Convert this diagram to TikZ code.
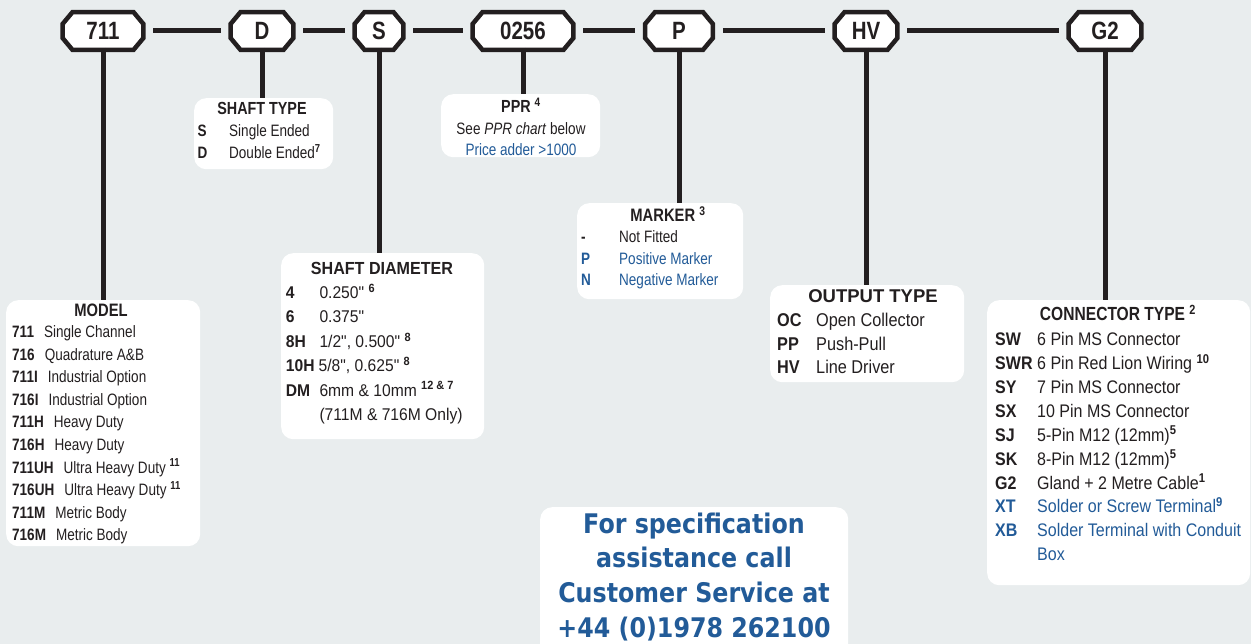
\documentclass[tikz,border=0pt]{standalone}
\usepackage{fontspec}
\setmainfont{Liberation Sans}
\newfontfamily\narrowfont[FakeStretch=0.82]{Liberation Sans}
\newfontfamily\midfont[FakeStretch=0.92]{Liberation Sans}
\newfontfamily\widefont[FakeStretch=0.88]{Liberation Sans}
\newfontfamily\callfont[FakeStretch=0.88]{DejaVu Sans}
\usetikzlibrary{positioning}
\pgfdeclarelayer{back}
\pgfdeclarelayer{mid}
\pgfsetlayers{back,mid,main}
\definecolor{bgcol}{RGB}{233,237,238}
\definecolor{ink}{RGB}{35,31,32}
\definecolor{linkblue}{RGB}{34,91,152}
\newcommand{\sups}[1]{\textsuperscript{\bfseries #1}}
\newcommand{\nbody}{\narrowfont\fontsize{16.5}{20}\selectfont}
\newcommand{\ntitle}{\narrowfont\bfseries\fontsize{17.5}{21}\selectfont}
\newcommand{\mbody}{\midfont\fontsize{17}{20}\selectfont}
\newcommand{\wbody}{\widefont\fontsize{18.5}{22}\selectfont}
\newcommand{\cbody}{\widefont\fontsize{18.2}{22}\selectfont}

\begin{document}
\begin{tikzpicture}[x=1pt, y=-1pt,
    hdr/.style={rectangle, minimum height=37.5pt, inner sep=0pt,
        text=ink, font=\narrowfont\bfseries\fontsize{25}{25}\selectfont},
    octline/.style={draw=ink, line width=4.5pt, fill=white, line join=miter},
    link/.style={draw=ink, line width=5pt},
    hlink/.style={link, shorten <=10pt, shorten >=10pt},
    panel/.style={fill=white, rounded corners=12pt, anchor=north west, inner sep=0pt},
    ttl/.style={anchor=base, inner sep=0pt, text=ink},
    row/.style={anchor=base west, inner sep=0pt, text=ink}
]
    \useasboundingbox (0,0) rectangle (1251,644);
    \begin{pgfonlayer}{back}
        \fill[bgcol] (0,0) rectangle (1251,644);
    \end{pgfonlayer}
    \clip (0,0) rectangle (1251,644);

    % part number
    \node[hdr, minimum width=80.5pt] (p711) at (103,31) {711};
    \node[hdr, minimum width=62.5pt] (pD) at (262,31) {D};
    \node[hdr, minimum width=48.5pt] (pS) at (379,31) {S};
    \node[hdr, minimum width=100.5pt] (p0256) at (523,31) {0256};
    \node[hdr, minimum width=67.5pt] (pP) at (679,31) {P};
    \node[hdr, minimum width=62.5pt] (pHV) at (866,31) {HV};
    \node[hdr, minimum width=72.5pt] (pG2) at (1105,31) {G2};
    \begin{pgfonlayer}{mid}
        \foreach \n in {p711,pD,pS,p0256,pP,pHV,pG2}
            \draw[octline] ([xshift=10pt]\n.north west) -- ([xshift=-10pt]\n.north east)
                -- ([yshift=-12pt]\n.north east) -- ([yshift=12pt]\n.south east)
                -- ([xshift=-10pt]\n.south east) -- ([xshift=10pt]\n.south west)
                -- ([yshift=12pt]\n.south west) -- ([yshift=-12pt]\n.north west) -- cycle;
    \end{pgfonlayer}
    \draw[hlink] (p711) -- (pD);
    \draw[hlink] (pD) -- (pS);
    \draw[hlink] (pS) -- (p0256);
    \draw[hlink] (p0256) -- (pP);
    \draw[hlink] (pP) -- (pHV);
    \draw[hlink] (pHV) -- (pG2);

    % option panels
    \node[panel, minimum width=194pt, minimum height=246pt] (model) at (6,300) {};
    \node[panel, minimum width=139pt, minimum height=71pt] (shafttype) at (194,98) {};
    \node[panel, minimum width=159pt, minimum height=63pt] (ppr) at (441,94) {};
    \node[panel, minimum width=203pt, minimum height=186pt] (shaftdia) at (281,253) {};
    \node[panel, minimum width=166pt, minimum height=96pt] (marker) at (577,203) {};
    \node[panel, minimum width=194pt, minimum height=97pt] (output) at (770,285) {};
    \node[panel, minimum width=263pt, minimum height=285pt] (connector) at (987,300) {};
    \node[panel, minimum width=308pt, minimum height=160pt] (callbox) at (540,507) {};

    \foreach \p/\b in {p711/model, pD/shafttype, pS/shaftdia, p0256/ppr, pP/marker, pHV/output, pG2/connector}
        \draw[link] ([yshift=2pt]\p.south) -- (\p.south |- \b.north);

    % model
    \node[ttl, font=\narrowfont\bfseries\fontsize{18}{21}\selectfont] (modelttl) at (101,316.5) {MODEL};
    \foreach \code/\desc [count=\i from 0] in {711/Single Channel, 716/Quadrature A\&B,
        711I/Industrial Option, 716I/Industrial Option, 711H/Heavy Duty, 716H/Heavy Duty,
        711UH/{Ultra Heavy Duty \sups{11}}, 716UH/{Ultra Heavy Duty \sups{11}},
        711M/Metric Body, 716M/Metric Body}
        \node[row, font=\nbody] (model\i) at ({12},{338+22.5*\i}) {\textbf{\code}\hspace{10pt}\desc};

    % shaft type
    \node[ttl, font=\ntitle] (shafttypettl) at (262,114.3) {SHAFT TYPE};
    \foreach \code/\desc [count=\i from 0] in {S/Single Ended, D/{Double Ended\sups{7}}} {
        \node[row, font=\nbody\bfseries] (stc\i) at ({197.5},{137+21.6*\i}) {\code};
        \node[row, font=\nbody] (std\i) at ({229},{137+21.6*\i}) {\desc};
    }

    % ppr
    \node[ttl, font=\ntitle] (pprttl) at (521,113) {PPR \sups{4}};
    \node[ttl, font=\nbody] (ppr1) at (521,135) {See \textit{PPR chart} below};
    \node[ttl, font=\nbody, text=linkblue] (ppr2) at (521,156) {Price adder >1000};

    % shaft diameter
    \node[ttl, font=\midfont\bfseries\fontsize{17.5}{21}\selectfont] (shaftdiattl) at (382,274.3) {SHAFT DIAMETER};
    \foreach \code/\desc/\dx [count=\i from 0] in {4/{0.250" \sups{6}}/319.3, 6/0.375"/319.3,
        8H/{1/2", 0.500" \sups{8}}/319.3, 10H/{5/8", 0.625" \sups{8}}/318.5,
        DM/{6mm \& 10mm \sups{12 \& 7}}/319.3, {}/{(711M \& 716M Only)}/319.3} {
        \node[row, font=\mbody\bfseries] (sdc\i) at ({285.7},{298.6+24.4*\i}) {\code};
        \node[row, font=\mbody] (sdd\i) at ({\dx},{298.6+24.4*\i}) {\desc};
    }

    % marker
    \node[ttl, font=\narrowfont\bfseries\fontsize{18}{21}\selectfont] (markerttl) at (668,221.4) {MARKER \sups{3}};
    \foreach \code/\desc/\col [count=\i from 0] in {-/Not Fitted/ink, P/Positive Marker/linkblue,
        N/Negative Marker/linkblue} {
        \node[row, font=\nbody\bfseries, text=\col] (mkc\i) at ({581},{242.9+21.5*\i}) {\code};
        \node[row, font=\nbody, text=\col] (mkd\i) at ({619},{242.9+21.5*\i}) {\desc};
    }

    % output type
    \node[ttl, font=\bfseries\fontsize{18.5}{22}\selectfont] (outputttl) at (873,302.6) {OUTPUT TYPE};
    \foreach \code/\desc [count=\i from 0] in {OC/Open Collector, PP/Push-Pull, HV/Line Driver} {
        \node[row, font=\wbody\bfseries] (otc\i) at ({777},{326.6+23.5*\i}) {\code};
        \node[row, font=\wbody] (otd\i) at ({816},{326.6+23.5*\i}) {\desc};
    }

    % connector type
    \node[ttl, font=\narrowfont\bfseries\fontsize{19}{22}\selectfont] (connectorttl) at (1118,320.8) {CONNECTOR TYPE \sups{2}};
    \foreach \code/\desc/\col [count=\i from 0] in {SW/6 Pin MS Connector/ink,
        SWR/{6 Pin Red Lion Wiring \sups{10}}/ink, SY/7 Pin MS Connector/ink,
        SX/10 Pin MS Connector/ink, SJ/{5-Pin M12 (12mm)\sups{5}}/ink,
        SK/{8-Pin M12 (12mm)\sups{5}}/ink, G2/{Gland + 2 Metre Cable\sups{1}}/ink,
        XT/{Solder or Screw Terminal\sups{9}}/linkblue, XB/Solder Terminal with Conduit/linkblue,
        {}/Box/linkblue} {
        \node[row, font=\cbody\bfseries, text=\col] (ctc\i) at ({995},{345.6+23.9*\i}) {\code};
        \node[row, font=\cbody, text=\col] (ctd\i) at ({1037},{345.6+23.9*\i}) {\desc};
    }

    % customer service
    \foreach \txt [count=\i from 0] in {For specification, assistance call, Customer Service at, +44 (0)1978 262100}
        \node[ttl, font=\callfont\bfseries\fontsize{27}{34}\selectfont, text=linkblue] (call\i) at ({694},{533+34.7*\i}) {\txt};
\end{tikzpicture}
\end{document}
